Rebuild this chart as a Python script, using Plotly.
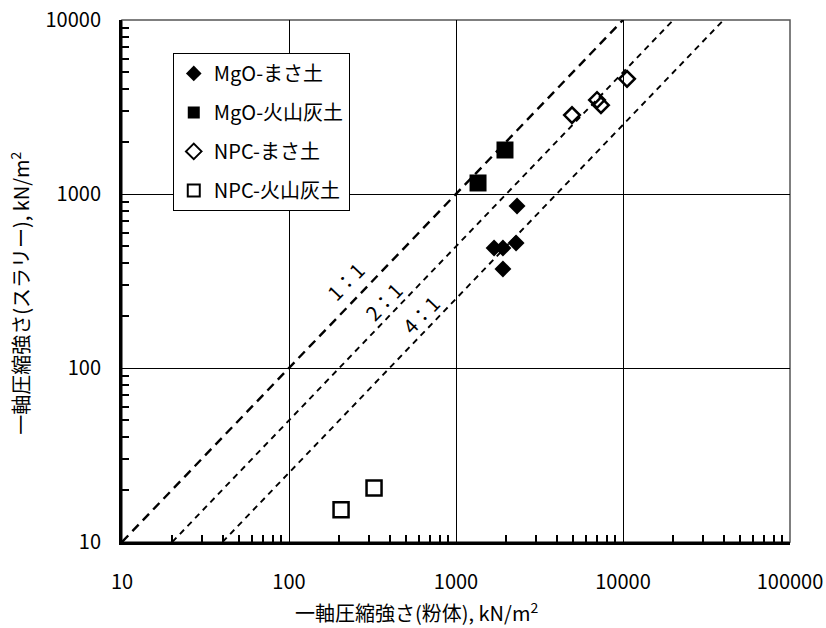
import plotly.graph_objects as go

# Unconfined compression strength, powder test (x) vs slurry test (y), kN/m2
mgo_masa_x = [2320, 1690, 1910, 2290, 1910]
mgo_masa_y = [853, 489, 489, 523, 371]

mgo_kazan_x = [1965, 1355]
mgo_kazan_y = [1790, 1157]

npc_masa_x = [4950, 6990, 7380, 10570]
npc_masa_y = [2840, 3470, 3240, 4590]

npc_kazan_x = [205, 323]
npc_kazan_y = [15.3, 20.4]

# Reference ratio lines (powder : slurry)
ratios = [1, 2, 4]
ratio_labels = ["1：1", "2：1", "4：1"]
ratio_label_pos = [(2.335, 2.50), (2.563, 2.385), (2.79, 2.305)]  # log10 coordinates

x_ticks = [10, 100, 1000, 10000, 100000]
y_ticks = [10, 100, 1000, 10000]

x_title = "一軸圧縮強さ(粉体), kN/m<sup>2</sup>"
y_title = "一軸圧縮強さ(スラリー), kN/m<sup>2</sup>"

FONT = "Noto Sans CJK JP"


def minor_positions(lo_exp, hi_exp):
    return [m * 10 ** e for e in range(lo_exp, hi_exp) for m in range(2, 10)]


fig = go.Figure()

dash_styles = {1: ("9px,6px", 2.4), 2: ("6px,5px", 1.9), 4: ("6px,5px", 1.9)}
for r in ratios:
    dash, w = dash_styles[r]
    fig.add_trace(go.Scatter(
        x=[10 * r, 10000 * r], y=[10, 10000], mode="lines",
        line=dict(color="black", width=w, dash=dash),
        showlegend=False, hoverinfo="skip"))

series = [
    ("MgO-まさ土", mgo_masa_x, mgo_masa_y, dict(symbol="diamond", size=13, color="black")),
    ("MgO-火山灰土", mgo_kazan_x, mgo_kazan_y, dict(symbol="square", size=17, color="black")),
    ("NPC-まさ土", npc_masa_x, npc_masa_y,
     dict(symbol="diamond-open", size=12, color="black", line=dict(width=2.5, color="black"))),
    ("NPC-火山灰土", npc_kazan_x, npc_kazan_y,
     dict(symbol="square-open", size=15, color="black", line=dict(width=2.5, color="black"))),
]
for i, (name, xs, ys, mk) in enumerate(series):
    fig.add_trace(go.Scatter(x=xs, y=ys, mode="markers", name=name, marker=mk,
                             legendgroup=f"g{i}"))

for (lx, ly), txt in zip(ratio_label_pos, ratio_labels):
    fig.add_annotation(x=lx, y=ly, text=txt, showarrow=False, textangle=-46,
                       font=dict(family=FONT, size=20, color="black"))

# axis titles, centred the way the chart area lays them out
fig.add_annotation(x=0.4416, y=-0.134, xref="paper", yref="paper", text=x_title,
                   showarrow=False, xanchor="center", yanchor="middle",
                   font=dict(family=FONT, size=20, color="black"))
fig.add_annotation(x=-0.153, y=0.477, xref="paper", yref="paper", text=y_title,
                   showarrow=False, xanchor="center", yanchor="middle", textangle=-90,
                   font=dict(family=FONT, size=20, color="black"))

# thin grey frame on the top and right sides
fig.add_shape(type="rect", xref="paper", yref="paper", x0=0, y0=0, x1=1, y1=1,
              line=dict(color="#555555", width=1.5), layer="below")

axis_common = dict(
    type="log", showgrid=True, gridcolor="black", gridwidth=1,
    showline=True, linecolor="black", linewidth=3,
    ticks="", zeroline=False, automargin=False,
    tickfont=dict(family=FONT, size=20, color="black"),
)

fig.update_xaxes(**axis_common, range=[1, 5], tickvals=x_ticks,
                 ticktext=[str(v) for v in x_ticks], ticklabelstandoff=20,
                 minor=dict(ticks="inside", ticklen=7, tickwidth=1.5, tickcolor="black",
                            showgrid=False, tickvals=minor_positions(1, 5)))
fig.update_yaxes(**axis_common, range=[1, 4], tickvals=y_ticks,
                 ticktext=[str(v) for v in y_ticks], ticklabelstandoff=14,
                 minor=dict(ticks="inside", ticklen=7, tickwidth=1.5, tickcolor="black",
                            showgrid=False, tickvals=minor_positions(1, 4)))

fig.update_layout(
    width=826, height=628,
    margin=dict(l=122, r=36, t=20, b=86),
    plot_bgcolor="white", paper_bgcolor="white",
    font=dict(family=FONT, color="black"),
    legend=dict(x=0.076, y=0.937, xanchor="left", yanchor="top",
                bgcolor="white", bordercolor="black", borderwidth=1,
                font=dict(family=FONT, size=20, color="black"),
                itemsizing="constant", tracegroupgap=10, traceorder="grouped",
                itemwidth=30),
)

fig.write_html("out.html")
